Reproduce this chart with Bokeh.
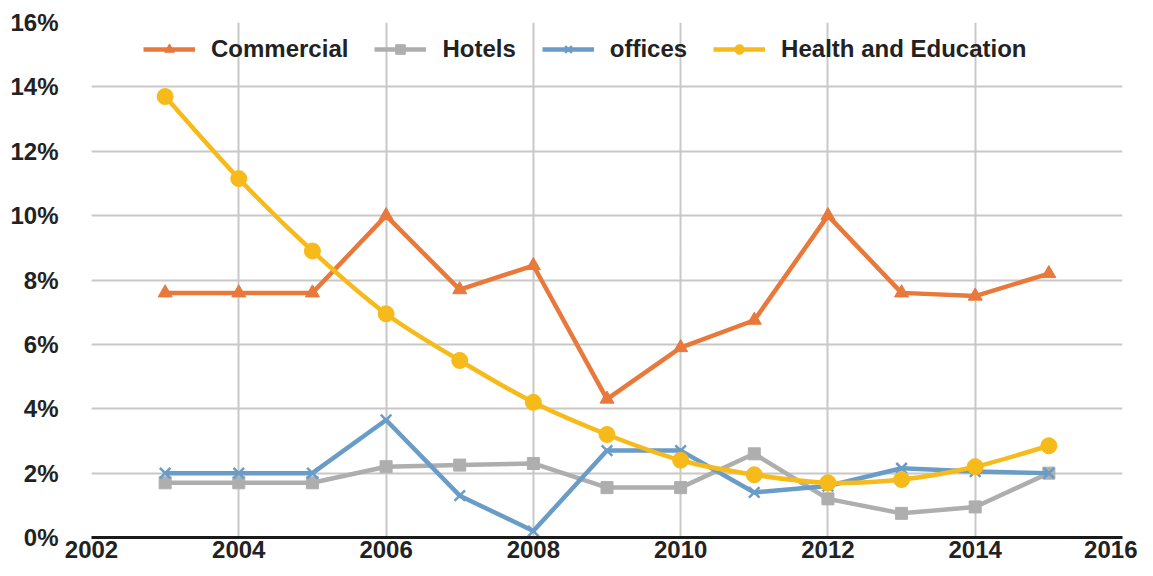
from bokeh.plotting import figure
from bokeh.models import (Range1d, FixedTicker, PrintfTickFormatter, Legend, LegendItem)
from bokeh.embed import file_html
from bokeh.resources import INLINE

years = [2003, 2004, 2005, 2006, 2007, 2008, 2009, 2010, 2011, 2012, 2013, 2014, 2015]
commercial = [7.6, 7.6, 7.6, 10.0, 7.7, 8.45, 4.3, 5.9, 6.75, 10.0, 7.6, 7.5, 8.2]
hotels = [1.7, 1.7, 1.7, 2.2, 2.25, 2.3, 1.55, 1.55, 2.6, 1.2, 0.75, 0.95, 2.0]
offices = [2.0, 2.0, 2.0, 3.65, 1.3, 0.2, 2.7, 2.7, 1.4, 1.6, 2.15, 2.05, 2.0]
health = [13.7, 11.15, 8.9, 6.95, 5.5, 4.2, 3.2, 2.4, 1.95, 1.7, 1.8, 2.2, 2.85]
x_ticks = [2002, 2004, 2006, 2008, 2010, 2012, 2014, 2016]
y_ticks = [0, 2, 4, 6, 8, 10, 12, 14, 16]

C_ORANGE = "#E8793A"
C_GRAY = "#AEAEAE"
C_BLUE = "#6A9CC8"
C_YELLOW = "#F6BA1B"
FONT = "Liberation Sans"

p = figure(width=1137, height=568, x_range=Range1d(2002, 2016), y_range=Range1d(0, 16),
           output_backend="svg", toolbar_location=None,
           min_border_left=91, min_border_right=15, min_border_top=22, min_border_bottom=31)
p.outline_line_color = None
p.background_fill_color = "white"

p.xaxis.ticker = FixedTicker(ticks=x_ticks)
p.yaxis.ticker = FixedTicker(ticks=y_ticks)
p.yaxis.formatter = PrintfTickFormatter(format="%d%%")
p.xgrid.ticker = FixedTicker(ticks=x_ticks)
p.ygrid.ticker = FixedTicker(ticks=y_ticks)
for g in (p.xgrid, p.ygrid):
    g.grid_line_color = "#C8C8C8"
    g.grid_line_width = 2

for ax in (p.xaxis, p.yaxis):
    ax.major_tick_line_color = None
    ax.minor_tick_line_color = None
    ax.major_tick_out = 0
    ax.major_tick_in = 0
    ax.major_label_text_font = FONT
    ax.major_label_text_font_style = "bold"
    ax.major_label_text_font_size = "24px"
    ax.major_label_text_color = "#222222"
p.yaxis.axis_line_color = None
p.yaxis.major_label_standoff = 33
p.xaxis.axis_line_color = "#1a1a1a"
p.xaxis.axis_line_width = 3
p.xaxis.major_label_standoff = 3

LW = 4.5
# Commercial
r1l = p.line(years, commercial, line_color=C_ORANGE, line_width=LW)
r1m = p.scatter(years, commercial, marker="triangle", size=14, color=C_ORANGE)
# Hotels
r2l = p.line(years, hotels, line_color=C_GRAY, line_width=LW)
r2m = p.scatter(years, hotels, marker="square", size=12, color=C_GRAY)
# Offices
r3l = p.line(years, offices, line_color=C_BLUE, line_width=LW)
r3m = p.scatter(years, offices, marker="x", size=15, line_color=C_BLUE, line_width=2.5)

# Health and Education: smoothed (Catmull-Rom -> cubic Bezier) through the data points
n = len(years)
x0, y0, x1, y1, cx0, cy0, cx1, cy1 = [], [], [], [], [], [], [], []
for i in range(n - 1):
    xa, ya = years[i], health[i]
    xb, yb = years[i + 1], health[i + 1]
    xp, yp = (years[i - 1], health[i - 1]) if i > 0 else (xa, ya)
    xn, yn = (years[i + 2], health[i + 2]) if i + 2 < n else (xb, yb)
    x0.append(xa); y0.append(ya); x1.append(xb); y1.append(yb)
    cx0.append(xa + (xb - xp) / 6.0); cy0.append(ya + (yb - yp) / 6.0)
    cx1.append(xb - (xn - xa) / 6.0); cy1.append(yb - (yn - ya) / 6.0)
r4l = p.bezier(x0=x0, y0=y0, x1=x1, y1=y1, cx0=cx0, cy0=cy0, cx1=cx1, cy1=cy1,
               line_color=C_YELLOW, line_width=LW)
r4m = p.scatter(years, health, marker="circle", size=16, color=C_YELLOW)

legend = Legend(items=[
    LegendItem(label="Commercial", renderers=[r1l, r1m]),
    LegendItem(label="Hotels", renderers=[r2l, r2m]),
    LegendItem(label="offices", renderers=[r3l, r3m]),
    LegendItem(label="Health and Education", renderers=[r4l, r4m]),
], orientation="horizontal", location=(52, 474))
legend.background_fill_alpha = 0
legend.border_line_alpha = 0
legend.padding = 0
legend.margin = 0
legend.spacing = 26
legend.glyph_width = 52
legend.glyph_height = 24
legend.label_height = 24
legend.label_standoff = 16
legend.label_text_font = FONT
legend.label_text_font_style = "bold"
legend.label_text_font_size = "24px"
legend.label_text_color = "#222222"
p.add_layout(legend, "center")

open("out.html", "w").write(file_html(p, INLINE))
